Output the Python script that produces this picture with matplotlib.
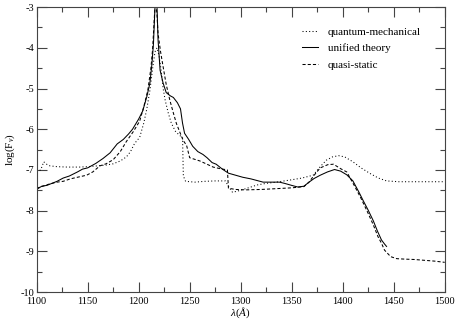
import matplotlib
matplotlib.use("Agg")
import matplotlib.pyplot as plt
from matplotlib.ticker import MultipleLocator

plt.rcParams['font.family'] = ['Liberation Serif', 'DejaVu Serif']
plt.rcParams['axes.unicode_minus'] = False
plt.rcParams['mathtext.fontset'] = 'custom'
plt.rcParams['mathtext.rm'] = 'Liberation Serif'
plt.rcParams['mathtext.it'] = 'Liberation Serif:italic'

unified_x = [1100, 1105, 1110, 1115, 1120, 1126, 1132, 1140, 1145, 1150, 1158, 1165, 1172, 1179,
             1185, 1190, 1194, 1200, 1204, 1208, 1211, 1213, 1214.5, 1216, 1217, 1218, 1219,
             1221, 1224, 1227, 1231, 1234, 1238, 1241, 1243, 1245, 1249, 1253, 1258, 1263, 1267,
             1272, 1276, 1282, 1288, 1295, 1302, 1310, 1316, 1322, 1330, 1338, 1343, 1350, 1356,
             1362, 1367, 1372, 1378, 1385, 1392, 1398, 1404, 1410, 1416, 1420, 1425, 1430, 1434,
             1438, 1441, 1443]
unified_y = [-7.48, -7.40, -7.38, -7.33, -7.28, -7.20, -7.15, -7.05, -6.98, -6.95, -6.84, -6.72,
             -6.58, -6.36, -6.25, -6.12, -6.00, -5.75, -5.55, -5.20, -4.87, -4.40, -3.90, -3.0,
             -2.8, -3.0, -3.8, -4.55, -4.87, -5.10, -5.18, -5.22, -5.35, -5.50, -5.85, -6.10,
             -6.25, -6.42, -6.55, -6.62, -6.70, -6.82, -6.86, -6.98, -7.08, -7.13, -7.18, -7.22,
             -7.26, -7.30, -7.30, -7.30, -7.33, -7.38, -7.42, -7.40, -7.30, -7.21, -7.13, -7.05,
             -6.99, -7.03, -7.12, -7.27, -7.55, -7.75, -7.99, -8.25, -8.50, -8.72, -8.82, -8.88]

quasi_x = [1100, 1106, 1112, 1120, 1126, 1133, 1140, 1149, 1155, 1162, 1168, 1175, 1182, 1188,
           1195, 1201, 1205, 1209, 1212, 1213.6, 1215.5, 1216.5, 1218, 1219, 1221.5, 1224, 1227,
           1230.6, 1234, 1237, 1240, 1243.5, 1247, 1250, 1255, 1260, 1267, 1273, 1280, 1287,
           1288, 1295, 1305, 1320, 1335, 1350, 1362, 1367, 1372, 1378, 1385.5, 1391, 1398, 1404,
           1411.7, 1418, 1425, 1430, 1434.6, 1438, 1441, 1447, 1453, 1460, 1470, 1480, 1490, 1500]
quasi_y = [-7.45, -7.40, -7.35, -7.30, -7.28, -7.22, -7.18, -7.13, -7.05, -6.90, -6.85, -6.75,
           -6.55, -6.30, -6.05, -5.80, -5.45, -5.04, -4.50, -4.06, -3.2, -2.8, -3.2, -3.65, -4.1,
           -4.47, -4.9, -5.29, -5.60, -5.86, -6.05, -6.27, -6.40, -6.70, -6.74, -6.78, -6.86,
           -6.93, -6.97, -7.00, -7.45, -7.48, -7.49, -7.48, -7.46, -7.44, -7.41, -7.30, -7.13,
           -6.95, -6.87, -6.86, -6.97, -7.05, -7.40, -7.70, -8.07, -8.35, -8.64, -8.80, -8.97,
           -9.13, -9.18, -9.19, -9.20, -9.22, -9.24, -9.27]

quantum_x = [1100, 1104, 1107, 1109, 1113, 1120, 1130, 1142, 1150, 1160, 1168, 1175, 1182, 1188,
             1192, 1196, 1201, 1205, 1208, 1211, 1214, 1216, 1218, 1220, 1222, 1224, 1226, 1229,
             1232, 1236, 1240, 1243, 1243.8, 1246, 1255, 1265, 1275, 1285, 1288, 1292, 1300, 1310,
             1316, 1325, 1335, 1348, 1360, 1371, 1378, 1384, 1390, 1396, 1402, 1410, 1418, 1427,
             1435, 1443, 1455, 1470, 1485, 1500]
quantum_y = [-7.05, -7.00, -6.80, -6.85, -6.90, -6.92, -6.93, -6.93, -6.92, -6.90, -6.88, -6.85,
             -6.78, -6.68, -6.55, -6.35, -6.20, -5.85, -5.50, -5.05, -4.45, -4.10, -4.00, -4.20,
             -4.55, -5.00, -5.29, -5.60, -5.85, -6.05, -6.15, -6.20, -7.15, -7.28, -7.30, -7.28,
             -7.27, -7.27, -7.40, -7.55, -7.50, -7.42, -7.37, -7.33, -7.30, -7.25, -7.20, -7.13,
             -6.92, -6.76, -6.68, -6.65, -6.68, -6.80, -6.95, -7.09, -7.20, -7.27, -7.29, -7.29,
             -7.29, -7.29]

fig = plt.figure(figsize=(4.58, 3.22), dpi=100)
ax = fig.add_axes([0.080, 0.093, 0.891, 0.885])

ax.plot(quantum_x, quantum_y, color='black', lw=0.75, linestyle=(0, (1, 2.2)), label='quantum-mechanical')
ax.plot(unified_x, unified_y, color='black', lw=0.75, linestyle='-', label='unified theory')
ax.plot(quasi_x, quasi_y, color='black', lw=0.75, linestyle=(0, (3, 2)), label='quasi-static')

ax.set_xlim(1100, 1500)
ax.set_ylim(-10, -3)
ax.xaxis.set_major_locator(MultipleLocator(50))
ax.xaxis.set_minor_locator(MultipleLocator(25))
ax.yaxis.set_major_locator(MultipleLocator(1))
ax.yaxis.set_minor_locator(MultipleLocator(0.5))
ax.tick_params(which='both', direction='in', top=True, right=True, labelsize=7.5, color='#444444')
ax.tick_params(axis='x', pad=3.5)
ax.tick_params(axis='y', pad=2)
ax.tick_params(which='major', length=7, width=0.8)
ax.tick_params(which='minor', length=3.5, width=0.8)
for s in ax.spines.values():
    s.set_linewidth(0.8)
    s.set_color('#444444')

ax.set_xlabel(r'$\lambda(\AA)$', fontsize=8, labelpad=0)
ax.set_ylabel(r'log(F$_\nu$)', fontsize=8, labelpad=2)

leg = ax.legend(loc='upper right', bbox_to_anchor=(0.966, 0.965), frameon=False, fontsize=8,
                handlelength=1.4, handletextpad=0.9, labelspacing=0.6)

fig.savefig('out.png', dpi=100)
